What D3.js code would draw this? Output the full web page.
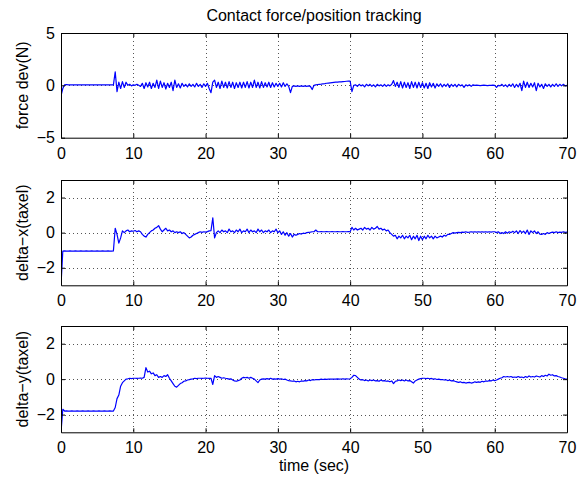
<!DOCTYPE html>
<html>
<head>
<meta charset="utf-8">
<script src="https://cdn.jsdelivr.net/npm/d3@7"></script>
<style>
body { margin: 0; background: #fff; }
svg { display: block; font-family: "Liberation Sans", Arial, Helvetica, sans-serif; }
</style>
</head>
<body>
<svg id="fig" width="587" height="478"></svg>
<script>
var width = 587, height = 478
var left = 61, right = 567
var fontSize = 16

var titleText = 'Contact force/position tracking'
var xLabel = 'time (sec)'
var timeTicks = [0, 10, 20, 30, 40, 50, 60, 70]
var forceTicks = [-5, 0, 5]
var taxelTicks = [-2, 0, 2]

// samples every 0.25 s from 0 to 70 s (281 values each)
var sampleStep = 0.25

var forceDev = [-1.0,-0.3,0.05,0.08,0.05,
  0.05,0.04,0.05,0.05,0.04,0.05,0.05,0.04,0.05,0.05,0.04,0.05,0.05,0.04,0.05,0.05,0.04,0.05,0.05,0.04,0.05,0.05,0.04,0.05,0.05,
  1.3,-0.6,0.3,-0.3,0.35,-0.2,0.3,0.0,0.1,-0.05,
  0.05,0.0,0.1,0.0,-0.1,
  0.2,-0.3,0.25,-0.15,0.3,-0.3,0.2,-0.2,0.5,-0.3,0.4,-0.2,
  0.25,-0.35,0.2,-0.2,0.3,-0.5,0.5,-0.2,0.15,-0.25,0.2,-0.1,
  0.1,-0.15,0.15,-0.1,0.1,-0.15,0.2,-0.1,0.1,-0.2,0.15,-0.1,
  0.2,-0.3,-0.7,0.3,
  0.5,-0.2,0.3,-0.3,0.4,-0.2,0.3,-0.25,0.35,-0.2,0.3,-0.3,0.25,-0.2,0.3,-0.25,
  0.3,-0.2,0.35,-0.25,0.3,-0.2,0.5,-0.2,0.3,-0.25,0.35,-0.2,0.25,-0.15,0.3,-0.2,0.25,-0.15,0.2,-0.1,
  0.2,-0.15,0.25,-0.1,0.15,-0.1,-0.7,-0.1,
  -0.05,-0.1,-0.05,-0.1,-0.05,-0.1,-0.05,-0.1,-0.05,-0.1,-0.4,0.0,
  0.05,0.08,0.1,0.12,0.15,0.17,0.2,0.22,0.24,0.26,0.28,0.3,0.31,0.33,0.34,0.36,0.37,0.39,0.4,0.4,
  -0.6,0.0,
  0.05,-0.1,0.1,-0.05,0.05,-0.15,0.1,-0.05,0.1,-0.1,0.05,-0.15,0.1,-0.05,0.05,-0.1,0.1,-0.1,0.05,-0.05,
  0.1,0.45,-0.1,
  0.3,-0.2,0.35,-0.25,0.3,-0.2,0.25,-0.3,0.35,-0.2,0.3,-0.25,0.3,-0.2,0.25,-0.25,0.2,-0.3,0.25,-0.15,0.2,-0.25,0.15,
  -0.1,0.15,-0.15,0.1,-0.1,0.15,-0.2,0.1,-0.1,0.1,-0.15,0.1,-0.05,0.05,-0.2,0.05,-0.05,0.05,-0.1,0.05,
  0.0,0.02,0.0,-0.02,0.0,0.02,0.0,-0.02,0.0,0.0,0.02,0.0,
  -0.2,0.0,
  -0.05,0.1,-0.1,0.05,-0.15,0.1,-0.1,0.15,-0.2,0.1,-0.15,0.2,-0.5,0.4,-0.2,0.3,-0.2,0.2,-0.15,0.25,
  -0.5,0.2,-0.15,0.1,-0.3,0.15,-0.1,0.1,-0.15,0.1,-0.1,0.15,-0.1,0.1,-0.05,0.1,-0.05,0.0]

var deltaX = [-3.0,
  -1.05,-1.04,-1.05,-1.05,-1.04,-1.05,-1.05,-1.04,-1.05,-1.05,
  -1.04,-1.05,-1.05,-1.04,-1.05,-1.05,-1.04,-1.05,-1.05,-1.04,
  -1.05,-1.05,-1.04,-1.05,-1.05,-1.04,-1.05,-1.05,-1.04,
  0.25,-0.1,-0.6,-0.3,0.1,0.0,0.1,
  0.15,0.05,0.1,0.08,0.12,0.05,0.1,
  0.05,-0.1,-0.2,-0.25, -0.1,0.0,0.1,0.15, 0.25,0.3,0.4,0.2, 0.05,0.15,0.25,0.1, 0.15,0.05,0.1,0.0,
  0.05,0.0,0.05,-0.05, 0.0,-0.1,-0.2,-0.3, -0.25,-0.15,-0.1,-0.05, 0.0,0.05,0.02,0.05, 0.03,0.06,0.1,0.12,
  0.85,-0.3,0.0,
  0.1,0.0,0.15,0.05,0.1,0.0,0.2,0.05,0.1,0.0,
  0.15,0.05,0.2,0.0,0.1,0.05,0.2,0.0,0.15,0.05,
  0.1,0.0,0.2,0.05,0.15,0.0,0.1,0.05,0.15,0.0,
  0.1,0.05,0.2,0.0,
  0.1,-0.1,0.05,-0.15,0.0,-0.2,-0.05,-0.25,-0.1,-0.15,
  -0.1,-0.05,-0.08,-0.03,-0.05,0.0,0.02,0.03,0.05,0.05,
  0.15,
  0.05,0.05,0.06,0.05,0.05,0.06,0.05,0.05,0.06,0.05,0.05,0.06,0.05,0.05,0.06,0.05,0.05,0.06,0.05,
  0.3,
  0.15,0.25,0.15,0.2,0.25,0.15,0.3,0.2,0.25,0.15,0.3,0.2,0.25,0.35,0.2,0.25,0.15,0.2,0.1,
  0.15,0.0,-0.1,-0.2,
  -0.15,-0.35,-0.2,-0.3,-0.15,-0.35,-0.2,-0.3, -0.15,-0.4,-0.2,-0.35,-0.15,-0.45,-0.2,-0.4, -0.2,-0.35,-0.15,-0.3,-0.2,-0.35,-0.2,-0.3,
  -0.25,-0.2,-0.25,-0.15,-0.2,-0.1,-0.1,-0.05,
  0.0,-0.03,0.0,0.02,0.0,0.03,0.02,0.05,0.02,0.03,0.05,0.03,0.05,0.03,0.05,0.03,0.05,0.03,0.05,0.03,0.05,0.03,0.05,0.05,
  0.0,0.05,-0.05,0.0,-0.05,0.05,-0.03,0.05,0.0,0.08,
  0.0,0.1,-0.05,0.12,0.0,0.08,-0.05,0.15,-0.1,0.1,
  0.0,0.1,-0.05,0.05,-0.08,-0.1,-0.05,-0.1,0.0,-0.05,
  0.0,0.03,0.0,0.05,0.0,0.03,0.02,0.05,0.02,0.03]

var deltaY = [-3.0,-1.7,
  -1.8,-1.79,-1.8,-1.8,-1.79,-1.8,-1.8,-1.79,-1.8,-1.8,
  -1.79,-1.8,-1.8,-1.79,-1.8,-1.8,-1.79,-1.8,-1.8,-1.79,
  -1.8,-1.8,-1.79,-1.8,-1.8,-1.79,-1.8,-1.8,
  -1.6,-1.1,-0.9,-0.4,-0.2,-0.1,0.0,
  0.02,0.05,0.03,0.05,0.05,0.04,0.05,0.06,0.05,0.1,
  0.65,0.4,0.45,0.3,0.35,0.2,0.25,0.1,0.15,0.1,
  0.2,0.15,0.25,0.05,-0.1,-0.25,-0.4,-0.45,-0.35,-0.25,
  -0.2,-0.12,-0.1,-0.05,-0.03,0.0,
  0.02,0.05,0.03,0.05,0.05,0.04,0.05,0.06,0.05,0.04,0.05,
  -0.3,0.2,0.1,0.15,
  0.1,0.05,0.08,0.05,0.03,0.0,0.02,-0.05,-0.1,-0.12,
  -0.08,-0.05,0.05,0.1,0.08,0.1,0.05,0.1,0.05,0.0,
  -0.1,-0.2,-0.05,0.0,0.02,0.0,0.03,0.0,0.05,0.0,
  0.02,0.0,0.03,
  0.0,0.02,-0.02,0.0,-0.05,-0.08,-0.1,-0.12,-0.1,-0.15,
  -0.12,-0.15,-0.1,-0.12,-0.08,-0.1,-0.05,-0.08,-0.03,-0.05,
  -0.03,-0.02,-0.03,0.0,-0.02,0.0,-0.01,0.0,0.01,0.0,
  0.01,0.0,0.02,0.0,0.01,0.02,0.0,0.02,0.01,0.02,
  0.1,0.22,0.2,0.1,0.0,-0.05,-0.03,-0.08,-0.05,-0.1,
  -0.05,-0.08,-0.05,-0.1,-0.08,-0.12,-0.05,-0.1,-0.08,-0.12,
  -0.1,-0.15,-0.1,-0.25,-0.12,-0.1,-0.05,-0.08,-0.05,-0.1,
  -0.05,-0.1,-0.08,-0.15,-0.22,-0.1,-0.05,0.0,0.03,0.05,
  0.05,0.03,0.05,0.02,0.04,0.0,0.02,-0.02,0.0,-0.03,
  -0.02,-0.05,-0.03,-0.08,-0.05,-0.1,-0.08,-0.12,-0.15,-0.18,
  -0.15,-0.2,-0.18,-0.22,-0.2,-0.18,-0.22,-0.2,-0.15,-0.18,
  -0.15,-0.18,-0.12,-0.15,-0.1,-0.12,-0.08,-0.1,-0.05,-0.08,
  -0.05,0.0,0.05,0.08,0.15,0.12,0.15,0.12,0.15,0.1,
  0.12,0.1,0.15,0.1,0.12,0.08,0.15,0.1,0.18,0.12,
  0.15,0.12,0.18,0.15,0.12,0.2,0.15,0.22,0.18,0.28,
  0.22,0.25,0.18,0.2,0.15,0.12,0.08,0.05,0.02,0.0]

var panels = [
  {name: 'force dev(N)', values: forceDev, domain: [-5, 5], ticks: forceTicks, top: 33, bottom: 137.7},
  {name: 'delta\u2212x(taxel)', values: deltaX, domain: [-3, 3], ticks: taxelTicks, top: 180, bottom: 285.3},
  {name: 'delta\u2212y(taxel)', values: deltaY, domain: [-3, 3], ticks: taxelTicks, top: 326, bottom: 432.3}
]

var svg = d3.select('svg#fig')

svg.append('rect')
    .attr('width', width)
    .attr('height', height)
    .attr('fill', '#fff')

var x = d3.scaleLinear().domain([0, 70]).range([left, right])
var tickFmt = d3.format('d')

function styleAxis(g) {
  g.attr('font-family', null)
      .attr('font-size', fontSize)
  g.selectAll('path, line').attr('stroke', '#000')
  g.selectAll('text').attr('fill', '#000')
}

panels.forEach((p, k) => {
  var y = d3.scaleLinear().domain(p.domain).range([p.bottom, p.top])
  var g = svg.append('g')

  g.append('clipPath')
      .attr('id', 'clip' + k)
    .append('rect')
      .attr('x', left)
      .attr('y', p.top)
      .attr('width', right - left)
      .attr('height', p.bottom - p.top)

  // dotted grid
  var grid = g.append('g')
      .attr('stroke', '#555')
      .attr('stroke-width', 1)
      .attr('stroke-dasharray', '1,3')
  grid.selectAll('line.vx')
    .data(timeTicks.filter(t => t > 0 && t < 70))
    .join('line')
      .attr('class', 'vx')
      .attr('x1', d => Math.round(x(d)) + 0.5)
      .attr('x2', d => Math.round(x(d)) + 0.5)
      .attr('y1', p.top)
      .attr('y2', p.bottom)
  grid.selectAll('line.hy')
    .data(p.ticks.filter(t => t > p.domain[0] && t < p.domain[1]))
    .join('line')
      .attr('class', 'hy')
      .attr('x1', left)
      .attr('x2', right)
      .attr('y1', d => Math.round(y(d)) + 0.5)
      .attr('y2', d => Math.round(y(d)) + 0.5)

  var line = d3.line()
      .x((d, i) => x(i * sampleStep))
      .y(d => y(d))

  g.append('path')
      .datum(p.values)
      .attr('clip-path', 'url(#clip' + k + ')')
      .attr('fill', 'none')
      .attr('stroke', '#0000ff')
      .attr('stroke-width', 1.2)
      .attr('stroke-linejoin', 'round')
      .attr('d', line)

  // box with inward ticks on all four sides
  g.append('g')
      .attr('transform', `translate(0,${p.bottom})`)
      .call(d3.axisBottom(x).tickValues(timeTicks).tickFormat(tickFmt).tickSize(-4).tickSizeOuter(0).tickPadding(9.5))
      .call(styleAxis)
  g.append('g')
      .attr('transform', `translate(0,${p.top})`)
      .call(d3.axisTop(x).tickValues(timeTicks).tickSize(-4).tickSizeOuter(0).tickFormat(''))
      .call(styleAxis)
  g.append('g')
      .attr('transform', `translate(${left},0)`)
      .call(d3.axisLeft(y).tickValues(p.ticks).tickFormat(tickFmt).tickSize(-4).tickSizeOuter(0).tickPadding(6))
      .call(styleAxis)
  g.append('g')
      .attr('transform', `translate(${right},0)`)
      .call(d3.axisRight(y).tickValues(p.ticks).tickSize(-4).tickSizeOuter(0).tickFormat(''))
      .call(styleAxis)

  g.append('text')
      .attr('transform', `translate(28,${(p.top + p.bottom) / 2}) rotate(-90)`)
      .attr('text-anchor', 'middle')
      .attr('font-size', fontSize)
      .text(p.name)
})

svg.append('text')
    .attr('x', (left + right) / 2)
    .attr('y', 20.5)
    .attr('text-anchor', 'middle')
    .attr('font-size', fontSize)
    .text(titleText)

svg.append('text')
    .attr('x', (left + right) / 2)
    .attr('y', 471)
    .attr('text-anchor', 'middle')
    .attr('font-size', fontSize)
    .text(xLabel)
</script>
</body>
</html>
